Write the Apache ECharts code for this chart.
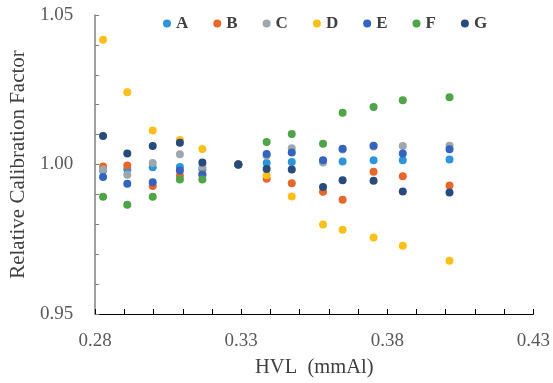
<!DOCTYPE html>
<html><head><meta charset="utf-8">
<script src="https://cdn.jsdelivr.net/npm/echarts@6/dist/echarts.min.js"></script>
<style>html,body{margin:0;padding:0;background:#fff}#c{width:553px;height:383px}</style>
</head><body><div id="c"></div>
<script>
const hvl = [0.2827, 0.2910, 0.2997, 0.3090, 0.3167, 0.3290, 0.3387, 0.3473, 0.3580, 0.3647, 0.3753, 0.3853, 0.4013];
const seriesNames = ['A','B','C','D','E','F','G'];
const A = [0.9980, 0.9983, 0.9991, 0.9992, 0.9985, 1.0000, 1.0005, 1.0008, 1.0012, 1.0010, 1.0014, 1.0014, 1.0017];
const B = [0.9993, 0.9997, 0.9928, 0.9962, 0.9968, 1.0000, 0.9952, 0.9937, 0.9909, 0.9882, 0.9976, 0.9961, 0.9930];
const C = [0.9983, 0.9966, 1.0005, 1.0034, 0.9993, 1.0000, 1.0030, 1.0054, 1.0007, 1.0050, 1.0060, 1.0062, 1.0063];
const D = [1.0417, 1.0242, 1.0114, 1.0082, 1.0052, 1.0000, 0.9964, 0.9893, 0.9799, 0.9782, 0.9756, 0.9728, 0.9678];
const E = [0.9958, 0.9936, 0.9941, 0.9980, 0.9966, 1.0000, 1.0035, 1.0040, 1.0014, 1.0053, 1.0063, 1.0037, 1.0051];
const F = [0.9892, 0.9865, 0.9892, 0.9950, 0.9950, 1.0000, 1.0075, 1.0102, 1.0069, 1.0173, 1.0192, 1.0215, 1.0225];
const G = [1.0095, 1.0037, 1.0062, 1.0073, 1.0007, 1.0000, 0.9985, 0.9983, 0.9925, 0.9947, 0.9946, 0.9910, 0.9906];
const values = [A, B, C, D, E, F, G];
const colors = ['#2E95D8', '#E8682C', '#9EA6B0', '#FDBF1A', '#3464BE', '#4EA446', '#284B7E'];
const xLabels = ['0.28', '0.33', '0.38', '0.43'];
const yLabels = ['0.95', '1.00', '1.05'];

const serif = '"Liberation Serif", "Times New Roman", serif';
const chart = echarts.init(document.getElementById('c'), null, {renderer: 'canvas'});
chart.setOption({
  animation: false,
  color: colors,
  grid: {left: 92, right: 11, top: 15, bottom: 65, containLabel: false},
  legend: {
    data: seriesNames,
    left: 158, top: 10,
    itemWidth: 8, itemHeight: 8, itemGap: 25,
    icon: 'circle',
    textStyle: {fontFamily: serif, fontWeight: 'bold', fontSize: 17, color: '#404040'}
  },
  xAxis: {
    type: 'value', min: 0.28, max: 0.43, interval: 0.01,
    name: 'HVL  (mmAl)', nameLocation: 'middle', nameGap: 43,
    nameTextStyle: {fontFamily: serif, fontSize: 20.5, color: '#404040'},
    axisLine: {show: true, lineStyle: {color: '#000', width: 1}},
    axisTick: {show: true, inside: true, length: 5, lineStyle: {color: '#000'}},
    axisLabel: {margin: 18, fontFamily: serif, fontSize: 19, color: '#595959',
      hideOverlap: false, showMinLabel: true, showMaxLabel: true,
      formatter: v => { const s = v.toFixed(2); return xLabels.includes(s) ? s : ''; }},
    splitLine: {show: false}
  },
  yAxis: {
    type: 'value', min: 0.95, max: 1.05, interval: 0.01,
    name: 'Relative Calibration Factor', nameLocation: 'middle', nameGap: 66, nameRotate: 90,
    nameTextStyle: {fontFamily: serif, fontSize: 21, color: '#404040'},
    axisLine: {show: true, lineStyle: {color: '#808080', width: 1.5}},
    axisTick: {show: true, inside: true, length: 4, lineStyle: {color: '#808080'}},
    axisLabel: {margin: 22, fontFamily: serif, fontSize: 19, color: '#595959',
      hideOverlap: false, showMinLabel: true, showMaxLabel: true,
      formatter: v => { const s = v.toFixed(2); return yLabels.includes(s) ? s : ''; }},
    splitLine: {show: false}
  },
  series: seriesNames.map((n, i) => ({
    name: n, type: 'scatter', symbol: 'circle', symbolSize: 8,
    data: hvl.map((x, j) => [x, values[i][j]]),
    itemStyle: {color: colors[i], opacity: 1}
  }))
});
</script></body></html>
